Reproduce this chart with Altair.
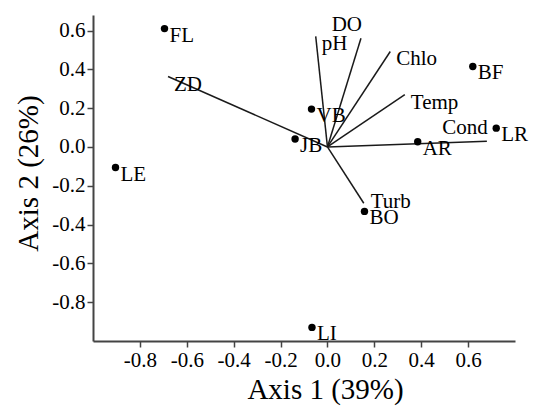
import altair as alt
import pandas as pd

# Site scores
sites = ["FL", "BF", "LR", "AR", "VB", "JB", "BO", "LE", "LI"]
site_x = [-0.695, 0.62, 0.72, 0.385, -0.068, -0.138, 0.158, -0.904, -0.066]
site_y = [0.61, 0.415, 0.097, 0.027, 0.195, 0.041, -0.332, -0.106, -0.93]

# Environmental vectors
vectors = ["pH", "DO", "Chlo", "Temp", "Cond", "Turb", "ZD"]
vec_x = [-0.05, 0.143, 0.268, 0.33, 0.68, 0.155, -0.68]
vec_y = [0.57, 0.56, 0.492, 0.27, 0.03, -0.29, 0.363]

x_ticks = [-0.8, -0.6, -0.4, -0.2, 0.0, 0.2, 0.4, 0.6]
y_ticks = [0.6, 0.4, 0.2, 0.0, -0.2, -0.4, -0.6, -0.8]

# label placement groups for vector labels (styling)
vec_group = {"pH": "se", "DO": "n", "Chlo": "se", "Temp": "se",
             "Cond": "n", "Turb": "e", "ZD": "se"}

site_df = pd.DataFrame({"label": sites, "x": site_x, "y": site_y})
vec_df = pd.DataFrame({"label": vectors, "x": vec_x, "y": vec_y})
vec_df["x0"] = 0.0
vec_df["y0"] = 0.0
vec_df["grp"] = vec_df["label"].map(vec_group)

FONT = "Liberation Serif"
label_expr = "(datum.value < -0.00001 ? '-' : '') + format(abs(datum.value), '.1f')"

xscale = alt.Scale(domain=[-1.0, 0.8], nice=False, zero=False)
yscale = alt.Scale(domain=[-1.0, 0.68], nice=False, zero=False)

axis_style = dict(
    grid=False, tickSize=6, labelPadding=2,
    domainColor="#444", domainWidth=2, tickColor="#444", tickWidth=1.5,
    labelFont=FONT, labelFontSize=21, labelColor="black",
    titleFont=FONT, titleFontSize=29, titleFontWeight="normal", titleColor="black",
)

xaxis = alt.Axis(values=x_ticks, labelExpr=label_expr, title="Axis 1 (39%)",
                 titleX=232, titleY=57, titleBaseline="alphabetic",
                 titleAlign="center", **axis_style)
yaxis = alt.Axis(values=y_ticks, labelExpr=label_expr, title="Axis 2 (26%)",
                 titleX=-65, titleY=158, titleAngle=-90, titleBaseline="middle",
                 titleAlign="center", **axis_style)


def X(field):
    return alt.X(field, type="quantitative", scale=xscale, axis=xaxis)


def Y(field):
    return alt.Y(field, type="quantitative", scale=yscale, axis=yaxis)


rules = alt.Chart(vec_df).mark_rule(color="#1a1a1a", strokeWidth=1.5).encode(
    x=X("x0"), y=Y("y0"), x2="x:Q", y2="y:Q"
)

points = alt.Chart(site_df).mark_circle(size=55, color="black", opacity=1).encode(
    x=X("x"), y=Y("y")
)

site_labels = alt.Chart(site_df).mark_text(
    align="left", baseline="middle", dx=5, dy=7, font=FONT, fontSize=21, color="black"
).encode(x=X("x"), y=Y("y"), text="label:N")

lab_se = alt.Chart(vec_df).transform_filter("datum.grp == 'se'").mark_text(
    align="left", baseline="middle", dx=6, dy=8, font=FONT, fontSize=21, color="black"
).encode(x=X("x"), y=Y("y"), text="label:N")

lab_n = alt.Chart(vec_df).transform_filter("datum.grp == 'n'").mark_text(
    align="right", baseline="middle", dx=1, dy=-13, font=FONT, fontSize=21, color="black"
).encode(x=X("x"), y=Y("y"), text="label:N")

lab_e = alt.Chart(vec_df).transform_filter("datum.grp == 'e'").mark_text(
    align="left", baseline="middle", dx=7, dy=-1, font=FONT, fontSize=21, color="black"
).encode(x=X("x"), y=Y("y"), text="label:N")

chart = alt.layer(rules, points, site_labels, lab_se, lab_n, lab_e).properties(
    width=422, height=326,
    padding={"left": 85, "top": 7, "right": 16, "bottom": 68},
    autosize="none",
).configure_view(stroke=None)

chart.save("out.html", embed_options={"renderer": "svg", "actions": False})
